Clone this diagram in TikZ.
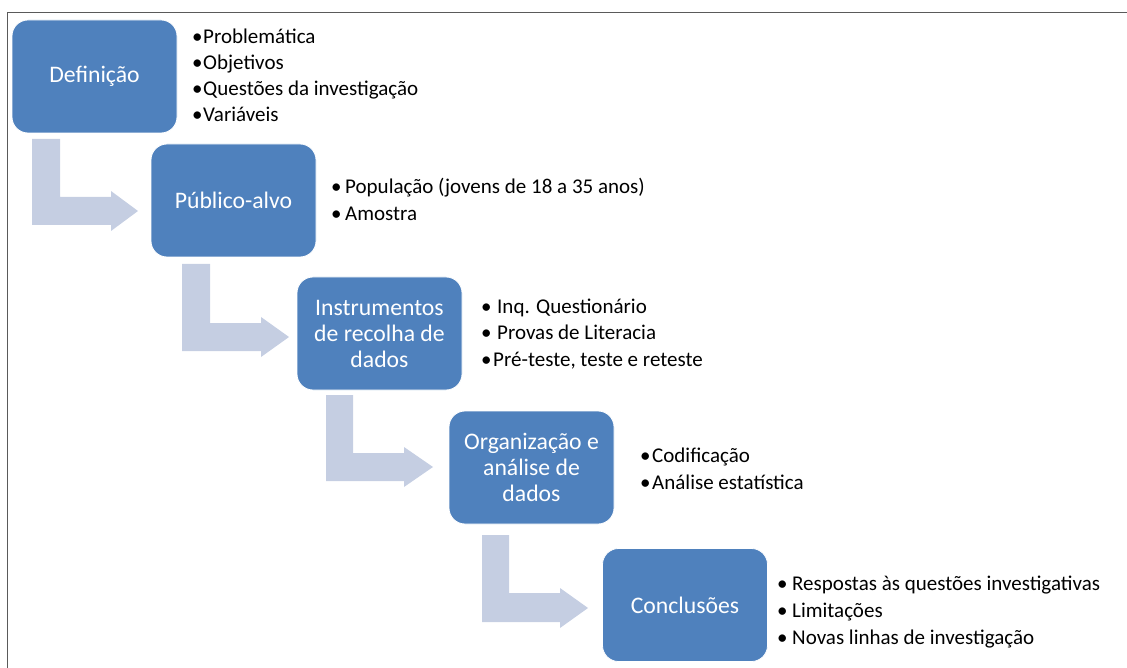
\documentclass[tikz,border=0pt]{standalone}
\usepackage{fontspec}
\setmainfont{Carlito}
\definecolor{boxblue}{HTML}{4F81BD}
\definecolor{arrowc}{HTML}{C5CEE2}
\definecolor{framec}{HTML}{5A5A5A}
\newcommand\bul[2]{\makebox[#1pt][l]{•}#2}
\begin{document}
\begin{tikzpicture}[x=1pt,y=-1pt,
  stepbox/.style={rounded corners=16pt, fill=boxblue, draw=white, line width=0.8pt,
    minimum width=165pt, minimum height=113pt, text=white, align=center,
    font=\fontsize{23.7}{26}\selectfont, inner sep=0pt},
  item/.style={anchor=base west, inner sep=0pt, font=\fontsize{21}{25}\selectfont},
  bent/.style={fill=arrowc, draw=none}]
\useasboundingbox (0,0) rectangle (1127,668);
% frame
\draw[framec, line width=1.6pt] (7.5,668) -- (7.5,12.5) -- (1127,12.5);
% bent arrows
\fill[bent] (32,139) -- (32,225) -- (111,225) -- (111,231) -- (138,211) -- (111,191) -- (111,197) -- (60,197) -- (60,139) -- cycle;
\fill[bent] (182,264) -- (182,351) -- (261,351) -- (261,357) -- (289,337) -- (261,317) -- (261,323) -- (210,323) -- (210,264) -- cycle;
\fill[bent] (326,395) -- (326,481) -- (404,481) -- (404,487) -- (433,467) -- (404,447) -- (404,453) -- (353,453) -- (353,395) -- cycle;
\fill[bent] (482,535) -- (482,622) -- (560,622) -- (560,628) -- (588,608) -- (560,588) -- (560,593) -- (509,593) -- (509,535) -- cycle;
% boxes
\node[stepbox] (b1) at (94.5,76.5) {Definição};
\node[stepbox] (b2) at (233.5,200.5) {Público-alvo};
\node[stepbox] (b3) at (379.5,333.5) {Instrumentos\\de recolha de\\dados};
\node[stepbox] (b4) at (531.5,467.5) {Organização e\\análise de\\dados};
\node[stepbox] (b5) at (685,605) {Conclusões};
% lists
\node[item] (l11) at (192,44) {\bul{11}{Problemática}};
\node[item] (l12) at (192,70) {\bul{11}{Objetivos}};
\node[item] (l13) at (192,96) {\bul{11}{Questões da investigação}};
\node[item] (l14) at (192,122) {\bul{11}{Variáveis}};
\node[item] (l21) at (331,194) {\bul{14}{População (jovens de 18 a 35 anos)}};
\node[item] (l22) at (331,221) {\bul{14}{Amostra}};
\node[item] (l31) at (481,313) {\bul{16}{Inq. Questionário}};
\node[item] (l32) at (481,339) {\bul{16}{Provas de Literacia}};
\node[item] (l33) at (481,366) {\bul{12}{Pré-teste, teste e reteste}};
\node[item] (l41) at (640,462) {\bul{12}{Codificação}};
\node[item] (l42) at (640,489) {\bul{12}{Análise estatística}};
\node[item] (l51) at (777,590) {\bul{15}{Respostas às questões investigativas}};
\node[item] (l52) at (777,617) {\bul{15}{Limitações}};
\node[item] (l53) at (777,644) {\bul{15}{Novas linhas de investigação}};
\end{tikzpicture}
\end{document}
